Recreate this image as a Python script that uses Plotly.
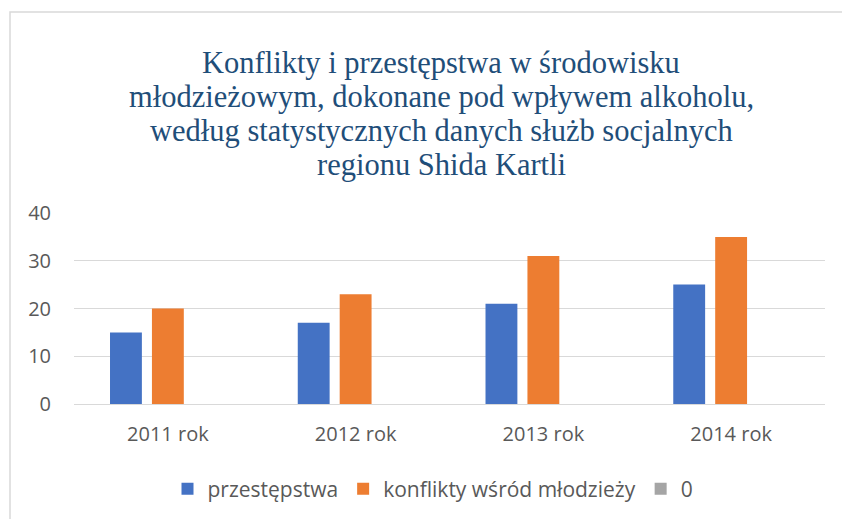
import plotly.graph_objects as go

categories = ["2011 rok", "2012 rok", "2013 rok", "2014 rok"]
przestepstwa = [15, 17, 21, 25]
konflikty = [20, 23, 31, 35]
zero_series = [0, 0, 0, 0]
series_names = ["przestępstwa", "konflikty wśród młodzieży", "0"]
colors = ["#4472C4", "#ED7D31", "#A5A5A5"]

title_lines = [
    "Konflikty i przestępstwa w środowisku",
    "młodzieżowym, dokonane pod wpływem alkoholu,",
    "według statystycznych danych służb socjalnych",
    "regionu Shida Kartli",
]

fig = go.Figure()
for name, vals, col in zip(series_names, [przestepstwa, konflikty, zero_series], colors):
    fig.add_trace(go.Bar(x=categories, y=vals, name=name, marker_color=col,
                         marker_line_width=0))

L, R, T, B = 74, 17, 213, 115
W, H = 842, 519
pw, ph = W - L - R, H - T - B

def px2x(px):
    return (px - L) / pw

def py2y(py):
    return (H - B - py) / ph

annotations = []
for i, line in enumerate(title_lines):
    annotations.append(dict(
        text=line, showarrow=False, xref="paper", yref="paper",
        x=px2x(441), xanchor="center", y=py2y(63 + 34 * i), yanchor="middle",
        font=dict(family="Liberation Serif", size=30.5, color="#1F4E79")))

fig.update_layout(
    width=W, height=H,
    margin=dict(l=L, r=R, t=T, b=B, autoexpand=False),
    paper_bgcolor="white", plot_bgcolor="white",
    barmode="group", bargap=0.33, bargroupgap=0.24,
    font=dict(family="Open Sans", color="#595959"),
    xaxis=dict(showgrid=False, showline=False, ticks="", tickangle=0,
               tickfont=dict(size=20, color="#595959"), ticklabelstandoff=16),
    yaxis=dict(range=[0, 40], dtick=10, showgrid=True, gridcolor="#D9D9D9",
               gridwidth=1.3, zeroline=True, zerolinecolor="#D9D9D9", zerolinewidth=1.3,
               showline=False, ticks="", tickfont=dict(size=20, color="#595959"),
               ticklabelstandoff=22),
    legend=dict(orientation="h", x=433 / W, xanchor="center", xref="container",
                y=1 - 489 / H, yanchor="middle", yref="container",
                font=dict(size=21, color="#595959"),
                traceorder="normal"),
    annotations=annotations,
    shapes=[dict(type="rect", xref="paper", yref="paper",
                 x0=px2x(10), x1=px2x(845), y0=py2y(530), y1=py2y(12),
                 line=dict(color="#D9D9D9", width=1.5), fillcolor="rgba(0,0,0,0)",
                 layer="below")],
)

fig.write_html("out.html", config={"displayModeBar": False},
               post_script="document.body.style.margin='0';")
